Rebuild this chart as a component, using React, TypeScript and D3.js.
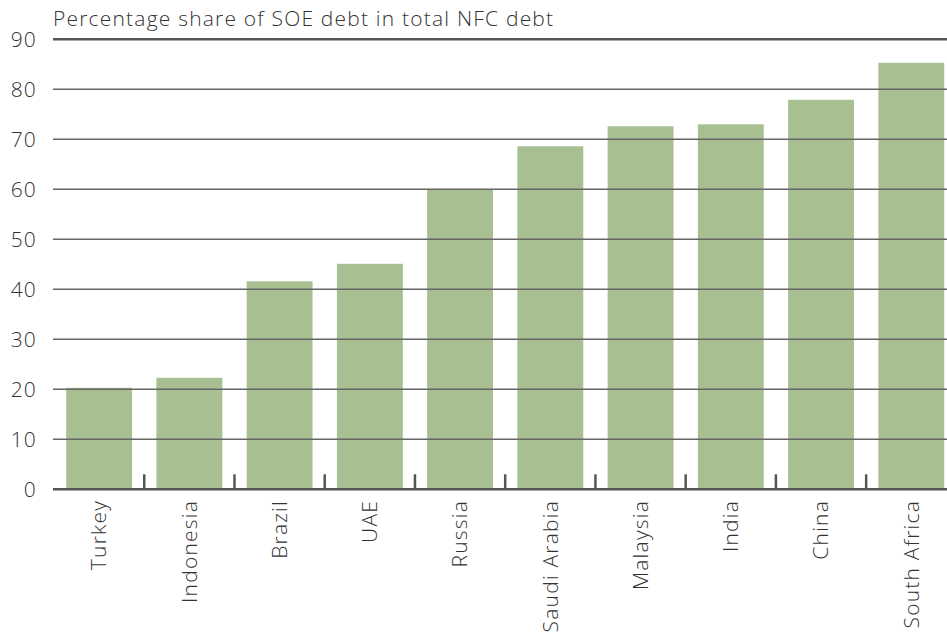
import React from "react";
import * as d3 from "d3";

const categories = ["Turkey", "Indonesia", "Brazil", "UAE", "Russia", "Saudi Arabia", "Malaysia", "India", "China", "South Africa"];
const values = [20.3, 22.3, 41.6, 45.1, 60.0, 68.6, 72.6, 73.0, 77.9, 85.3];
const yTicks = [0, 10, 20, 30, 40, 50, 60, 70, 80, 90];
const title = "Percentage share of SOE debt in total NFC debt";

const W = 947;
const H = 632;
const FONT = "'Open Sans', sans-serif";
const FS = 21;
const LS = 1.2;

export default function App() {
  const x = d3.scaleBand<string>().domain(categories).range([54, 956.4]).paddingInner(0.27).paddingOuter(0.135);
  const y = d3.scaleLinear().domain([0, 90]).range([489.3, 39.3]);
  const step = x.step();
  const x0 = 54;
  return (
    <svg width={W} height={H} style={{ position: "fixed", left: 0, top: 0, background: "#fff" }}>
      <text x={53} y={26} fontFamily={FONT} fontWeight={300} fontSize={FS} letterSpacing={LS} fill="#333">{title}</text>
      {categories.map((c, i) => (
        <rect key={c} x={x(c)} y={y(values[i])} width={x.bandwidth()} height={y(0) - y(values[i])} fill="#a7bf91" />
      ))}
      {yTicks.map((t) => (
        <g key={t}>
          <line x1={53} x2={W} y1={y(t)} y2={y(t)} stroke={t === 0 || t === 90 ? "#555" : "#666"} strokeWidth={t === 0 || t === 90 ? 2.5 : 1.5} />
          <text x={37} y={y(t)} dy="0.35em" textAnchor="end" fontFamily={FONT} fontWeight={300} fontSize={FS} letterSpacing={LS} fill="#333">{t}</text>
        </g>
      ))}
      {categories.slice(1).map((c, i) => {
        const tx = x0 + step * (i + 1);
        return <line key={"t" + c} x1={tx} x2={tx} y1={y(0)} y2={y(0) - 15} stroke="#555" strokeWidth={2.5} />;
      })}
      {categories.map((c) => {
        const cx = (x(c) as number) + x.bandwidth() / 2;
        return (
          <text key={"l" + c} transform={`translate(${cx},${500}) rotate(-90)`} dy="0.35em" textAnchor="end" fontFamily={FONT} fontWeight={300} fontSize={FS} letterSpacing={LS} fill="#333">{c}</text>
        );
      })}
    </svg>
  );
}
